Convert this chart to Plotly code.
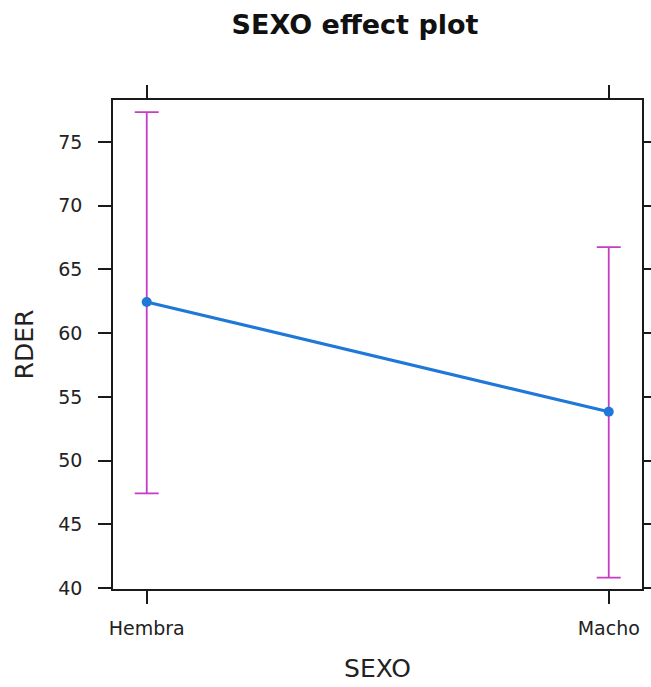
import plotly.graph_objects as go

# Effect of SEXO on RDER: fitted means with confidence limits
categories = ["Hembra", "Macho"]
fit = [62.45, 53.83]
lower = [47.43, 40.81]
upper = [77.35, 66.75]

y_ticks = [40, 45, 50, 55, 60, 65, 70, 75]

err_plus = [u - f for u, f in zip(upper, fit)]
err_minus = [f - l for f, l in zip(fit, lower)]

FONT = "DejaVu Sans"
LINE_BLUE = "#1F78D8"
CI_MAGENTA = "#C63CC6"
FRAME = "#1a1a1a"

fig = go.Figure()

# confidence interval bars
fig.add_trace(go.Scatter(
    x=categories, y=fit, mode="markers",
    marker=dict(size=1, opacity=0),
    error_y=dict(type="data", symmetric=False, array=err_plus, arrayminus=err_minus,
                 color=CI_MAGENTA, thickness=1.8, width=12),
    hoverinfo="skip", showlegend=False,
))

# fitted effect line
fig.add_trace(go.Scatter(
    x=categories, y=fit, mode="lines+markers",
    line=dict(color=LINE_BLUE, width=3.2),
    marker=dict(color=LINE_BLUE, size=10),
    showlegend=False,
))

axis_common = dict(
    showline=True, linecolor=FRAME, linewidth=1.5, mirror="ticks",
    ticks="outside", ticklen=13, tickwidth=1.5, tickcolor=FRAME,
    showgrid=False, zeroline=False, automargin=False,
    tickfont=dict(family=FONT, size=19, color="#222222"),
)

fig.update_layout(
    width=651, height=687,
    margin=dict(l=113, r=9, t=100, b=98, autoexpand=False),
    paper_bgcolor="white", plot_bgcolor="white",
    title=dict(text="<b>SEXO effect plot</b>", x=355 / 651, xref="container",
               xanchor="center", y=1 - 25 / 687, yref="container", yanchor="middle",
               font=dict(family=FONT, size=27, color="#111111"), automargin=False),
    xaxis=dict(type="category", range=[-0.073, 1.072],
               title=dict(text="SEXO", standoff=22,
                          font=dict(family=FONT, size=25, color="#222222")),
               ticklabelstandoff=8, **axis_common),
    yaxis=dict(range=[39.92, 78.3], tickvals=y_ticks,
               title=dict(text="RDER", standoff=18,
                          font=dict(family=FONT, size=25, color="#222222")),
               ticklabelstandoff=12, **axis_common),
)

fig.write_html("out.html")
